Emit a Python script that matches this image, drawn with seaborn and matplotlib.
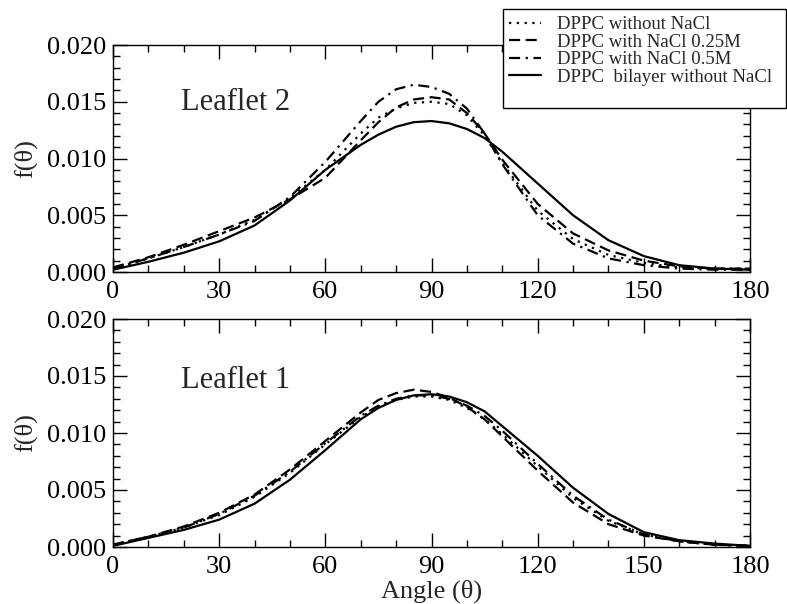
import matplotlib
matplotlib.use("Agg")
import matplotlib.pyplot as plt
from matplotlib.ticker import MultipleLocator
from matplotlib.patches import Rectangle
import seaborn as sns
import pandas as pd

sns.set_theme(style="white")
plt.rcParams['font.family'] = ['Liberation Serif', 'DejaVu Serif']

angles = [0, 10, 20, 30, 40, 50, 60, 70, 75, 80, 85, 90, 95, 100, 105, 110,
          120, 130, 140, 150, 160, 170, 180]

series_names = ["DPPC without NaCl", "DPPC with NaCl 0.25M",
                "DPPC with NaCl 0.5M", "DPPC  bilayer without NaCl"]

# Leaflet 2 (top panel)
l2_without = [0.0003, 0.0012, 0.0022, 0.0033, 0.0046, 0.0065, 0.0090, 0.0122, 0.0136, 0.0144, 0.0149, 0.0150,
              0.0148, 0.0138, 0.0120, 0.0096, 0.0054, 0.0029, 0.0015, 0.0008, 0.0004, 0.0003, 0.0003]
l2_025 = [0.0004, 0.0013, 0.0024, 0.0036, 0.0048, 0.0064, 0.0083, 0.0116, 0.0132, 0.0145, 0.0152, 0.0154,
          0.0152, 0.0140, 0.0122, 0.0099, 0.0060, 0.0034, 0.0019, 0.0010, 0.0005, 0.0003, 0.0003]
l2_05 = [0.0003, 0.0012, 0.0022, 0.0033, 0.0045, 0.0066, 0.0097, 0.0133, 0.0150, 0.0161, 0.0165, 0.0163,
         0.0157, 0.0144, 0.0122, 0.0095, 0.0050, 0.0025, 0.0012, 0.0006, 0.0003, 0.0002, 0.0002]
l2_bilayer = [0.0002, 0.0009, 0.0017, 0.0027, 0.0041, 0.0063, 0.0090, 0.0112, 0.0121, 0.0128, 0.0132, 0.0133,
              0.0131, 0.0126, 0.0118, 0.0106, 0.0078, 0.0050, 0.0028, 0.0014, 0.0006, 0.0003, 0.0002]

# Leaflet 1 (bottom panel)
l1_without = [0.0002, 0.0009, 0.0017, 0.0028, 0.0044, 0.0065, 0.0090, 0.0114, 0.0123, 0.0129, 0.0132, 0.0132,
              0.0129, 0.0122, 0.0112, 0.0099, 0.0071, 0.0043, 0.0023, 0.0011, 0.0005, 0.0002, 0.0001]
l1_025 = [0.0002, 0.0009, 0.0018, 0.0030, 0.0046, 0.0068, 0.0093, 0.0118, 0.0129, 0.0135, 0.0138, 0.0136,
          0.0131, 0.0123, 0.0112, 0.0097, 0.0067, 0.0039, 0.0020, 0.0010, 0.0005, 0.0002, 0.0001]
l1_05 = [0.0002, 0.0009, 0.0017, 0.0029, 0.0045, 0.0066, 0.0091, 0.0115, 0.0124, 0.0130, 0.0133, 0.0133,
         0.0130, 0.0124, 0.0115, 0.0102, 0.0073, 0.0045, 0.0024, 0.0011, 0.0005, 0.0002, 0.0001]
l1_bilayer = [0.0001, 0.0008, 0.0015, 0.0024, 0.0038, 0.0059, 0.0085, 0.0112, 0.0122, 0.0129, 0.0133, 0.0134,
              0.0132, 0.0127, 0.0119, 0.0106, 0.0080, 0.0052, 0.0029, 0.0013, 0.0006, 0.0003, 0.0001]

x_ticks = [0, 30, 60, 90, 120, 150, 180]
y_ticks = [0.000, 0.005, 0.010, 0.015, 0.020]
y_ticklabels = ["0.000", "0.005", "0.010", "0.015", "0.020"]


def make_df(vals):
    rows = []
    for name, v in zip(series_names, vals):
        for a, y in zip(angles, v):
            rows.append({"angle": a, "f": y, "series": name})
    return pd.DataFrame(rows)


df_top = make_df([l2_without, l2_025, l2_05, l2_bilayer])
df_bot = make_df([l1_without, l1_025, l1_05, l1_bilayer])

dashes = {series_names[0]: (1, 2.5), series_names[1]: (5, 2.5),
          series_names[2]: (5, 2.5, 1, 2.5), series_names[3]: ""}
palette = {n: "black" for n in series_names}

W, H = 787, 604
fig = plt.figure(figsize=(W / 100, H / 100), dpi=100)
left, right = 113, 750
ax1 = fig.add_axes([left / W, 1 - 272 / H, (right - left) / W, 227 / H])
ax2 = fig.add_axes([left / W, 1 - 547 / H, (right - left) / W, 228 / H])

for ax, df, lab, ly in [(ax1, df_top, "Leaflet 2", 0.745), (ax2, df_bot, "Leaflet 1", 0.73)]:
    sns.lineplot(data=df, x="angle", y="f", hue="series", style="series",
                 dashes=dashes, palette=palette, linewidth=1.6, ax=ax,
                 legend=(ax is ax1), hue_order=series_names, style_order=series_names)
    ax.set_xlim(0, 180)
    ax.set_ylim(0, 0.020)
    ax.set_xticks(x_ticks)
    ax.set_xticklabels([str(t) for t in x_ticks], fontsize=19)
    ax.set_yticks(y_ticks)
    ax.set_yticklabels(y_ticklabels, fontsize=19)
    ax.xaxis.set_minor_locator(MultipleLocator(10))
    ax.yaxis.set_minor_locator(MultipleLocator(0.001))
    ax.tick_params(which="both", direction="in", top=True, right=True,
                   bottom=True, left=True, colors="black", width=1)
    ax.tick_params(which="major", length=10)
    ax.tick_params(which="minor", length=5)
    ax.tick_params(axis="y", which="major", pad=5)
    ax.tick_params(axis="x", which="major", pad=6.5)
    ax.set_ylabel("f(θ)", fontsize=19, labelpad=7)
    ax.set_xlabel("")
    for s in ax.spines.values():
        s.set_color("black")
        s.set_linewidth(1.0)
    ax.text(0.106, ly, lab, transform=ax.transAxes, fontsize=22, ha="left", va="center")

ax2.set_xlabel("Angle (θ)", fontsize=19, labelpad=1)

handles, labels = ax1.get_legend_handles_labels()
ax1.get_legend().remove()
# legend frame
fig.patches.append(Rectangle((503 / W, 1 - 108 / H), (786 - 503) / W, 99 / H,
                             transform=fig.transFigure, facecolor="white",
                             edgecolor="black", linewidth=1.0, zorder=9))
leg = fig.legend(handles, labels, loc="upper left", bbox_to_anchor=(509 / W, 1 - 16 / H),
                 fontsize=13.5, frameon=False,
                 borderpad=0, labelspacing=0.02, handlelength=1.7, handletextpad=0.85,
                 borderaxespad=0)
leg.set_zorder(10)

fig.savefig("out.png", dpi=100)
